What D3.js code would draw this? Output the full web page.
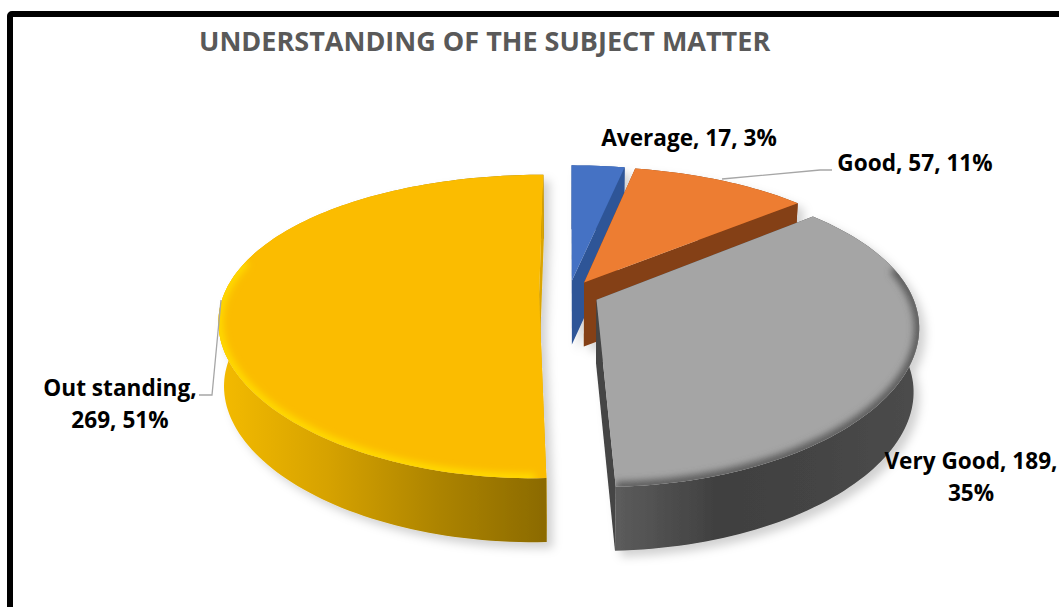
<!doctype html>
<html>
<head>
<meta charset="utf-8">
<title>Understanding of the subject matter</title>
<script src="https://cdn.jsdelivr.net/npm/d3@7"></script>
<style>
  html, body { margin: 0; background: #fff; overflow: hidden; }
  text { font-family: "Open Sans", sans-serif; font-weight: 700; }
</style>
</head>
<body>
<script>
const titleText = "UNDERSTANDING OF THE SUBJECT MATTER";
const categories = ["Average", "Good", "Very Good", "Out standing"];
const counts = [17, 57, 189, 269];
const percents = ["3%", "11%", "35%", "51%"];

const width = 1059;
const height = 607;

// top, cut face and wall colours per slice
const topColor = ["#4472c4", "#ed7d31", "#a5a5a5", "#fbbc00"];
const faceColor = ["#2f5597", "#843f16", "#444444", "#dba500"];
const wallStops = [
  ["#2f5597", "#2f5597"],
  ["#843f16", "#843f16"],
  ["#5c5c5c", "#404040", "#444444", "#4c4c4c"],
  ["#f4bb00", "#d6a200", "#ad8400", "#8b6a00"]
];

// fake perspective: the back of the disc shrinks, the front grows
const cx = 569, cy = 294, R = 315, H = 144.8, ky = 0.212, kx = 0.17, depth = 64, explode = 0.095;

function project(u, v, z) {
  const sx = 1 / (1 - kx * v);
  const sy = 1 / (1 - ky * v);
  const f = 1 - 0.016 * z;
  return [cx + R * u * sx * f, cy + H * v * sy + depth * z];
}

const pie = d3.pie().sort(null).startAngle(0).endAngle(2 * Math.PI);
const slices = pie(counts);

const svg = d3.select("body").append("svg")
    .attr("width", width)
    .attr("height", height);

const defs = svg.append("defs");

const shadow = defs.append("filter").attr("id", "shadow")
    .attr("x", "-10%").attr("y", "-10%").attr("width", "120%").attr("height", "120%");
shadow.append("feDropShadow")
    .attr("dx", 6).attr("dy", 6).attr("stdDeviation", 5)
    .attr("flood-color", "#000").attr("flood-opacity", 0.18);

defs.append("filter").attr("id", "soft").append("feGaussianBlur").attr("stdDeviation", 3.5);

svg.append("rect")
    .attr("x", 10).attr("y", 14)
    .attr("width", 1300).attr("height", 900)
    .attr("rx", 2)
    .attr("fill", "#fff")
    .attr("stroke", "#000")
    .attr("stroke-width", 6);

svg.append("text")
    .attr("x", 199).attr("y", 51)
    .attr("font-size", 27)
    .attr("fill", "#595959")
    .text(titleText);

const line = d3.line();

// ring points of one slice, from a0 to a1, at height z
function ring(d, a0, a1, z) {
  const mid = (d.startAngle + d.endAngle) / 2;
  const ox = explode * Math.sin(mid), oy = -explode * Math.cos(mid);
  const n = Math.max(2, Math.ceil((a1 - a0) * 40));
  return d3.range(n + 1).map(i => {
    const a = a0 + (a1 - a0) * i / n;
    return project(ox + Math.sin(a), oy - Math.cos(a), z);
  });
}

function apex(d, z) {
  const mid = (d.startAngle + d.endAngle) / 2;
  return project(explode * Math.sin(mid), -explode * Math.cos(mid), z);
}

function face(d, a, z0, z1) {
  const rimTop = ring(d, a, a, z0)[0], rimBottom = ring(d, a, a, z1)[0];
  return line([rimTop, apex(d, z0), apex(d, z1), rimBottom]) + "Z";
}

const pieGroup = svg.append("g").attr("filter", "url(#shadow)");

// back to front, so that the grey slice sits over the orange wall
const order = [0, 1, 3, 2];

order.forEach(i => {
  const d = slices[i];
  const g = pieGroup.append("g");
  const topPath = line([apex(d, 0), ...ring(d, d.startAngle, d.endAngle, 0)]) + "Z";

  g.append("path").attr("d", face(d, d.startAngle, 0, 1)).attr("fill", faceColor[i]);

  const gradId = "wall" + i;
  const xs = ring(d, d.startAngle, d.endAngle, 0).map(p => p[0]);
  const gradient = defs.append("linearGradient").attr("id", gradId)
      .attr("gradientUnits", "userSpaceOnUse")
      .attr("x1", d3.min(xs)).attr("x2", d3.max(xs)).attr("y1", 0).attr("y2", 0);
  wallStops[i].forEach((c, j, all) => {
    gradient.append("stop").attr("offset", j / (all.length - 1)).attr("stop-color", c);
  });
  const wall = ring(d, d.startAngle, d.endAngle, 0)
      .concat(ring(d, d.startAngle, d.endAngle, 1).reverse());
  g.append("path").attr("d", line(wall) + "Z").attr("fill", `url(#${gradId})`);

  g.append("path").attr("d", face(d, d.endAngle, 0, 1)).attr("fill", faceColor[i]);
  g.append("path").attr("d", topPath).attr("fill", topColor[i]);

  // bevel along the front rim of the two big slices
  if (i >= 2) {
    const clipId = "clip" + i;
    defs.append("clipPath").attr("id", clipId).append("path").attr("d", topPath);
    const bevel = i === 3
      ? {a0: d.startAngle + 0.03, a1: 4.95, color: "#ffdc00", w: 9}
      : {a0: 1.35, a1: d.endAngle, color: "#5a5a5a", w: 10};
    g.append("g").attr("clip-path", `url(#${clipId})`)
      .append("path")
        .attr("d", line(ring(d, bevel.a0, bevel.a1, 0)))
        .attr("fill", "none")
        .attr("stroke", bevel.color)
        .attr("stroke-width", bevel.w)
        .attr("filter", "url(#soft)");
  }
});

// leader lines
const leaders = [
  [[722, 179], [820, 170], [832, 170]],
  [[221, 300], [212, 395], [199, 395]]
];
svg.append("g").selectAll("path").data(leaders).join("path")
    .attr("d", line)
    .attr("fill", "none")
    .attr("stroke", "#a6a6a6")
    .attr("stroke-width", 1.3);

// data labels, wrapped the way the chart wraps them
const labelText = categories.map((c, i) => `${c}, ${counts[i]}, ${percents[i]}`);
const labelSpots = [
  {x: 689, y: 146, lines: [labelText[0]]},
  {x: 915, y: 171, lines: [labelText[1]]},
  {x: 971, y: 469, lines: [`${categories[2]}, ${counts[2]},`, percents[2]]},
  {x: 120, y: 396, lines: [`${categories[3]},`, `${counts[3]}, ${percents[3]}`]}
];
const labels = svg.append("g").selectAll("text").data(labelSpots).join("text")
    .attr("text-anchor", "middle")
    .attr("font-size", 22.6)
    .attr("fill", "#000");
labels.selectAll("tspan").data(d => d.lines.map((t, j) => ({t, j, x: d.x, y: d.y}))).join("tspan")
    .attr("x", d => d.x)
    .attr("y", d => d.y + d.j * 31.5)
    .text(d => d.t);
</script>
</body>
</html>
